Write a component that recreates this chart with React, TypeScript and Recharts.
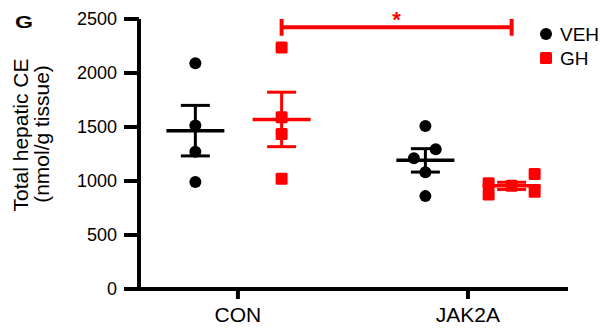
import { ScatterChart, Scatter, XAxis, YAxis, ErrorBar, ReferenceLine } from "recharts";

const categories = ["CON", "JAK2A"];
const vehValues = [
  [2090, 1515, 1270, 990],
  [1510, 1295, 1210, 1080, 860],
];
const ghValues = [
  [2235, 1590, 1435, 1020],
  [980, 875, 955, 1065, 900],
];
// horizontal scatter of the dots inside a group
const vehSpread = [
  [0, 0, 0, 0],
  [0, 0.045, -0.05, 0, 0],
];
const ghSpread = [
  [0, 0, 0, 0],
  [-0.1, -0.1, 0, 0.1, 0.1],
];
const yTicks = [0, 500, 1000, 1500, 2000, 2500];
const sigY = 2423;

const FONT = "'Liberation Sans', Arial, Helvetica, sans-serif";
const RED = "#ff0000";
const VEH_OFFSET = -0.185;
const GH_OFFSET = 0.19;

const toPoints = (values: number[][], spread: number[][], offset: number) =>
  values.flatMap((vals, i) =>
    vals.map((v, j) => ({ x: i + 1 + offset + spread[i][j], y: v }))
  );

const toSummary = (values: number[][], offset: number) =>
  values.map((vals, i) => {
    const n = vals.length;
    const m = vals.reduce((a, b) => a + b, 0) / n;
    const sd = Math.sqrt(vals.reduce((a, b) => a + (b - m) ** 2, 0) / (n - 1));
    return { x: i + 1 + offset, y: m, sem: sd / Math.sqrt(n) };
  });

const vehPoints = toPoints(vehValues, vehSpread, VEH_OFFSET);
const ghPoints = toPoints(ghValues, ghSpread, GH_OFFSET);
const vehSummary = toSummary(vehValues, VEH_OFFSET);
const ghSummary = toSummary(ghValues, GH_OFFSET);

const Dot = (props: any) => <circle cx={props.cx} cy={props.cy} r={6} fill="#000" />;
const Square = (props: any) => (
  <rect x={props.cx - 6} y={props.cy - 6} width={12} height={12} rx={1.5} fill={RED} />
);
const meanLine = (color: string) => (props: any) => (
  <line x1={props.cx - 29} x2={props.cx + 29} y1={props.cy} y2={props.cy} stroke={color} strokeWidth={3.5} />
);

// panel letter, axis title and legend
const Decor = () => (
  <g fontFamily={FONT} fill="#000">
    <text x={15} y={28} fontSize={16} fontWeight="bold" textLength={18} lengthAdjust="spacingAndGlyphs">G</text>
    <text transform="translate(28,135) rotate(-90)" textAnchor="middle" fontSize={21}>Total hepatic CE</text>
    <text transform="translate(49,134) rotate(-90)" textAnchor="middle" fontSize={21}>(nmol/g tissue)</text>
    <circle cx={546} cy={34} r={6} fill="#000" />
    <text x={560} y={41} fontSize={19}>VEH</text>
    <rect x={540} y={52} width={12} height={12} rx={1.5} fill={RED} />
    <text x={560} y={65} fontSize={19}>GH</text>
  </g>
);

export default function App() {
  return (
    <div style={{ position: "absolute", left: 0, top: 0, background: "#fff" }}>
      <ScatterChart width={606} height={328} margin={{ top: 19, right: 38, bottom: 0, left: 0 }}>
        <XAxis
          type="number"
          dataKey="x"
          domain={[0.57, 2.435]}
          ticks={[1, 2]}
          tickFormatter={(v: number) => categories[v - 1]}
          height={39}
          axisLine={{ stroke: "#000", strokeWidth: 4 }}
          tickLine={{ stroke: "#000", strokeWidth: 4 }}
          tickSize={10}
          tickMargin={8}
          tick={{ fill: "#000", fontSize: 21, fontFamily: FONT }}
        />
        <YAxis
          type="number"
          dataKey="y"
          domain={[0, 2500]}
          ticks={yTicks}
          width={139}
          axisLine={{ stroke: "#000", strokeWidth: 4 }}
          tickLine={{ stroke: "#000", strokeWidth: 4 }}
          tickSize={15}
          tickMargin={7}
          tick={{ fill: "#000", fontSize: 18, fontFamily: FONT }}
          label={{ content: Decor }}
        />
        <Scatter name="VEH" data={vehPoints} shape={Dot} isAnimationActive={false} />
        <Scatter name="GH" data={ghPoints} shape={Square} isAnimationActive={false} />
        <Scatter name="VEH mean" data={vehSummary} shape={meanLine("#000")} isAnimationActive={false}>
          <ErrorBar dataKey="sem" direction="y" width={14.5} stroke="#000" strokeWidth={3} />
        </Scatter>
        <Scatter name="GH mean" data={ghSummary} shape={meanLine(RED)} isAnimationActive={false}>
          <ErrorBar dataKey="sem" direction="y" width={14.5} stroke={RED} strokeWidth={3} />
        </Scatter>
        <ReferenceLine
          segment={[{ x: 1 + GH_OFFSET, y: sigY }, { x: 2 + GH_OFFSET, y: sigY }]}
          stroke={RED}
          strokeWidth={4}
          ifOverflow="visible"
          label={{ value: "*", position: "top", fill: RED, fontSize: 22, fontWeight: "bold", fontFamily: FONT, offset: 0 }}
        />
        <ReferenceLine segment={[{ x: 1 + GH_OFFSET, y: 2345 }, { x: 1 + GH_OFFSET, y: 2500 }]} stroke={RED} strokeWidth={4} ifOverflow="visible" />
        <ReferenceLine segment={[{ x: 2 + GH_OFFSET, y: 2345 }, { x: 2 + GH_OFFSET, y: 2500 }]} stroke={RED} strokeWidth={4} ifOverflow="visible" />
      </ScatterChart>
    </div>
  );
}
